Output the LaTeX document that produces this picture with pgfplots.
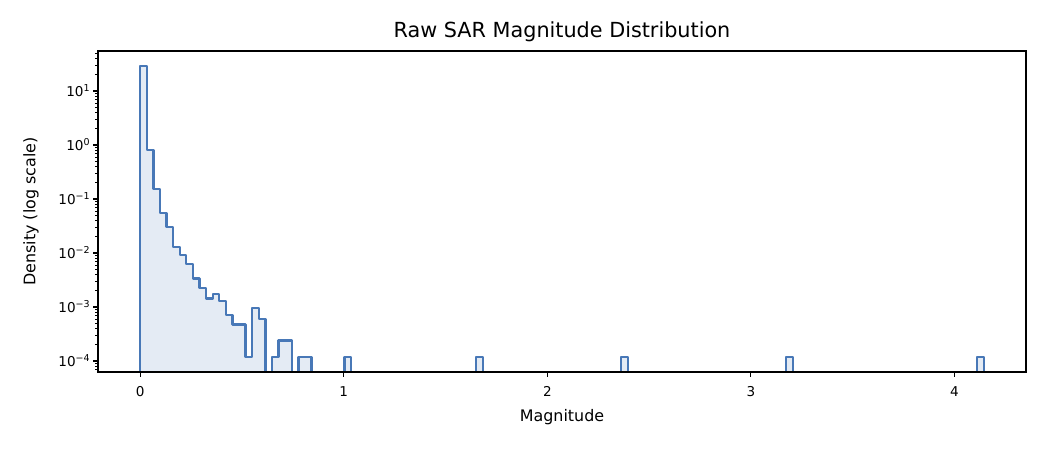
\documentclass[border=0pt]{standalone}
\usepackage{fontspec}
\setmainfont{DejaVu Sans}
\usepackage{pgfplots}
\pgfplotsset{compat=1.18}
\definecolor{histline}{RGB}{72,120,183}
\begin{document}
\begin{tikzpicture}
\begin{axis}[
  scale only axis, width=9.28in, height=3.21in,
  xmin=-0.2072, xmax=4.3512,
  ymode=log, ymin=6.25e-5, ymax=55,
  axis on top,
  axis line style={black, line width=0.8pt},
  tick align=outside, xtick pos=bottom, ytick pos=left,
  major tick length=3.5pt, minor tick length=2pt,
  every tick/.style={black, line width=0.8pt},
  every minor tick/.style={black, line width=0.6pt},
  xtick={0,1,2,3,4},
  ytick={1e-4,1e-3,1e-2,1e-1,1,10},
  yticklabels={10\textsuperscript{−4},10\textsuperscript{−3},10\textsuperscript{−2},10\textsuperscript{−1},10\textsuperscript{0},10\textsuperscript{1}},
  minor ytick={7e-5,8e-5,9e-5,2e-4,3e-4,4e-4,5e-4,6e-4,7e-4,8e-4,9e-4,2e-3,3e-3,4e-3,5e-3,6e-3,7e-3,8e-3,9e-3,2e-2,3e-2,4e-2,5e-2,6e-2,7e-2,8e-2,9e-2,0.2,0.3,0.4,0.5,0.6,0.7,0.8,0.9,2,3,4,5,6,7,8,9,20,30,40,50},
  /pgf/number format/assume math mode=true,
  ticklabel style={font=\fontsize{9.8}{11}\selectfont},
  xticklabel style={yshift=-3.5pt},
  yticklabel style={xshift=1.5pt},
  every axis title/.style={font=\fontsize{15}{18}\selectfont, at={(rel axis cs:0.5,1)}, yshift=0.19in, anchor=center},
  every axis x label/.style={font=\fontsize{11.5}{14}\selectfont, at={(rel axis cs:0.5,0)}, yshift=-0.45in, anchor=center},
  every axis y label/.style={font=\fontsize{11.5}{14}\selectfont, at={(rel axis cs:0,0.5)}, xshift=-0.67in, rotate=90, anchor=center},
  title={Raw SAR Magnitude Distribution},
  xlabel={Magnitude},
  ylabel={Density (log scale)},
]
\addplot[const plot, draw=histline, line width=1.7pt, fill=histline!15, line join=round] table[row sep=\\] {
x y \\
0 1e-7 \\
0 29.0 \\
0.032375 0.81 \\
0.06475 0.151 \\
0.097125 0.0543 \\
0.1295 0.0299 \\
0.161875 0.01276 \\
0.19425 0.00906 \\
0.226625 0.00617 \\
0.259 0.00335 \\
0.291375 0.00225 \\
0.32375 0.00143 \\
0.356125 0.00172 \\
0.3885 0.00129 \\
0.420875 0.000714 \\
0.45325 0.000476 \\
0.518 0.000119 \\
0.550375 0.000952 \\
0.58275 0.000595 \\
0.615125 1e-7 \\
0.6475 0.000119 \\
0.679875 0.000238 \\
0.744625 1e-7 \\
0.777 0.000119 \\
0.84175 1e-7 \\
1.003625 0.000119 \\
1.036 1e-7 \\
1.651125 0.000119 \\
1.6835 1e-7 \\
2.363375 0.000119 \\
2.39575 1e-7 \\
3.17275 0.000119 \\
3.205125 1e-7 \\
4.111625 0.000119 \\
4.144 1e-7 \\
} -- cycle;
\end{axis}
\pgfresetboundingbox
\path ([xshift=-0.98in,yshift=-0.78in]current axis.south west) rectangle ([xshift=0.24in,yshift=0.51in]current axis.north east);
\end{tikzpicture}
\end{document}
